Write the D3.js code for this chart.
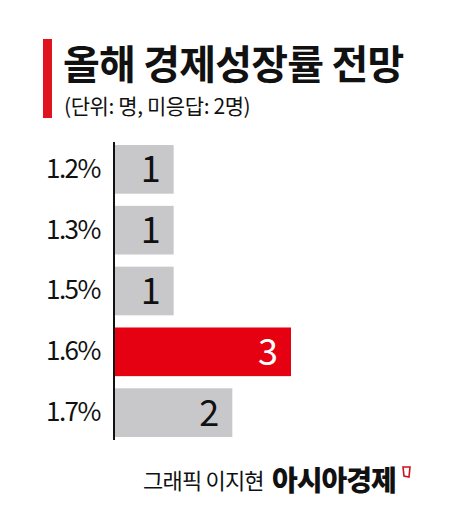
<!DOCTYPE html>
<html>
<head>
<meta charset="utf-8">
<script src="https://cdn.jsdelivr.net/npm/d3@7"></script>
<style>
  body { margin: 0; background: #fff; }
  svg { display: block; font-family: "Noto Sans CJK KR", sans-serif; }
</style>
</head>
<body>
<div id="chart"></div>
<script>
// chart data
const rates = ["1.2%", "1.3%", "1.5%", "1.6%", "1.7%"];
const counts = [1, 1, 1, 3, 2];
const highlight = "1.6%";

const svgWidth = 474;
const svgHeight = 532;

const svg = d3.select("#chart")
  .append("svg")
  .attr("width", svgWidth)
  .attr("height", svgHeight);

// title block
svg.append("rect")
  .attr("x", 43).attr("y", 39)
  .attr("width", 9).attr("height", 79)
  .attr("fill", "#e0141e");

svg.append("text")
  .attr("x", 63).attr("y", 79)
  .attr("font-size", "40px")
  .attr("font-weight", 700)
  .attr("letter-spacing", "-0.8px")
  .attr("fill", "#111")
  .text("올해 경제성장률 전망");

svg.append("text")
  .attr("x", 64).attr("y", 114)
  .attr("font-size", "21px")
  .attr("letter-spacing", "-0.4px")
  .attr("fill", "#111")
  .text("(단위: 명, 미응답: 2명)");

// scales
const x = d3.scaleLinear()
  .domain([0, 3])
  .range([115, 291]);

const y = d3.scaleBand()
  .domain(rates)
  .range([142, 440])
  .paddingInner(0.2)
  .paddingOuter(0.05);

const chartGroup = svg.append("g");

chartGroup.selectAll("rect.bar")
  .data(rates)
  .enter()
  .append("rect")
  .attr("class", "bar")
  .attr("x", x(0))
  .attr("y", d => y(d))
  .attr("width", (d, i) => x(counts[i]) - x(0))
  .attr("height", y.bandwidth())
  .attr("fill", d => d === highlight ? "#e50012" : "#c8c8ca");

// axis line + category labels
const yAxis = d3.axisLeft(y).tickSize(0).tickPadding(14);
const axisG = chartGroup.append("g")
  .attr("transform", `translate(${x(0) - 1}, 0)`)
  .call(yAxis);

axisG.select(".domain")
  .attr("d", `M0,${y.range()[0]}V${y.range()[1]}`)
  .attr("stroke", "#111")
  .attr("stroke-width", 2);

axisG.selectAll("text")
  .attr("font-size", "26px")
  .attr("letter-spacing", "-1.5px")
  .attr("font-family", "'Noto Sans CJK KR', sans-serif")
  .attr("fill", "#111");

// value labels
chartGroup.selectAll("text.val")
  .data(rates)
  .enter()
  .append("text")
  .attr("class", "val")
  .attr("x", (d, i) => x(counts[i]) - 13)
  .attr("y", d => y(d) + y.bandwidth() / 2)
  .attr("dy", "0.36em")
  .attr("text-anchor", "end")
  .attr("font-size", "36px")
  .attr("fill", d => d === highlight ? "#fff" : "#111")
  .text((d, i) => counts[i]);

// footer
svg.append("text")
  .attr("x", 143).attr("y", 489)
  .attr("font-size", "22px")
  .attr("letter-spacing", "-0.8px")
  .attr("fill", "#111")
  .text("그래픽 이지현");

svg.append("text")
  .attr("x", 272).attr("y", 491)
  .attr("font-size", "28px")
  .attr("font-weight", 900)
  .attr("letter-spacing", "-1px")
  .attr("fill", "#111")
  .text("아시아경제");

svg.append("path")
  .attr("d", "M403,467 L410,467 L409,477 L404,476 Z")
  .attr("fill", "none")
  .attr("stroke", "#d0101e")
  .attr("stroke-width", 1.6);
</script>
</body>
</html>
